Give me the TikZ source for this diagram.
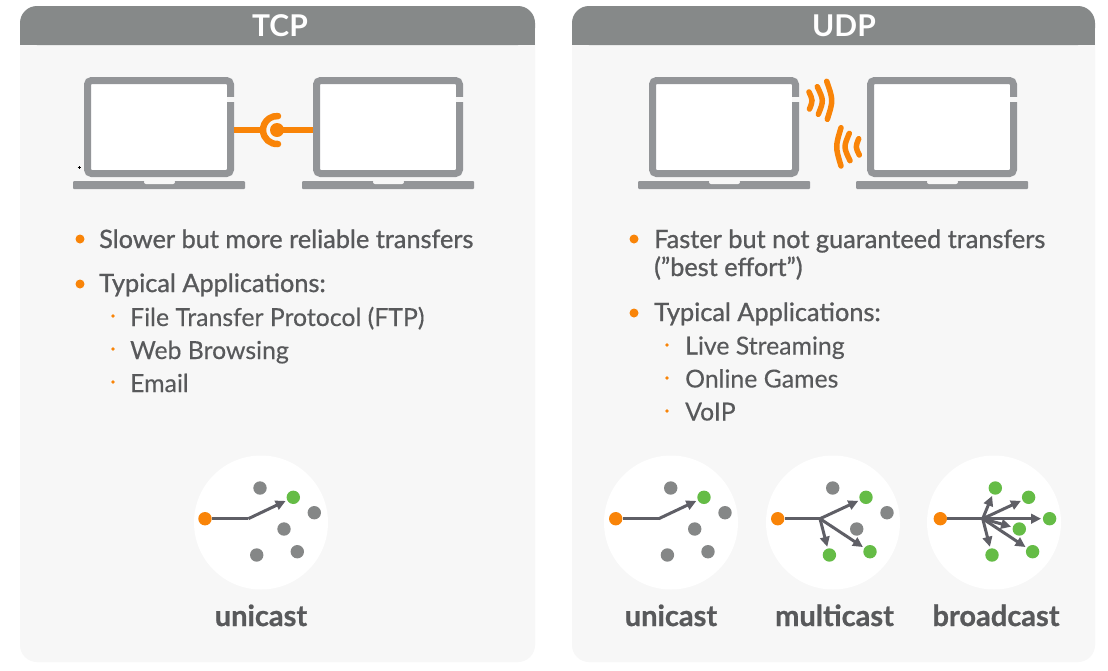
\documentclass[tikz,border=0pt]{standalone}
\usepackage{fontspec}
\setmainfont{Lato}
\usetikzlibrary{arrows.meta}
\definecolor{panelc}{HTML}{F7F7F7}
\definecolor{headc}{HTML}{868989}
\definecolor{lapc}{HTML}{939598}
\definecolor{orangec}{HTML}{F98408}
\definecolor{textc}{HTML}{58595B}
\definecolor{greenc}{HTML}{65BC46}
\definecolor{dotc}{HTML}{858787}
\definecolor{arrc}{HTML}{5F5F66}
\tikzset{
  dotn/.style={circle,inner sep=0pt,minimum size=13.4pt,fill=#1},
  flow/.style={draw=arrc,line width=3pt,-{Triangle[length=10pt,width=9.5pt]},shorten >=1.6pt},
  trunk/.style={draw=arrc,line width=3pt},
  wave/.style={draw=orangec,line width=5.5pt,line cap=round},
  link/.style={draw=orangec,line width=5.5pt},
  txtm/.style={anchor=base west,text=textc,font=\fontsize{25.3}{25.3}\selectfont\addfontfeatures{FakeBold=1.0},inner sep=0pt},
  txts/.style={anchor=base west,text=textc,font=\fontsize{24.8}{24.8}\selectfont\addfontfeatures{FakeBold=0.25},inner sep=0pt},
  lab/.style={anchor=base,text=textc,font=\fontsize{29}{29}\selectfont\bfseries\addfontfeatures{FakeBold=0.8},inner sep=0pt},
  head/.style={text=white,font=\fontsize{30}{30}\selectfont\bfseries,inner sep=0pt},
  bigb/.style={circle,fill=orangec,inner sep=0pt,minimum size=9pt},
  smallb/.style={circle,fill=orangec,inner sep=0pt,minimum size=3.6pt},
  laptop/.pic={
    \draw[lapc,line width=7pt,fill=white,rounded corners=4pt] (3.5,3.5) rectangle (146.5,96.5);
    \fill[panelc] (143,20) rectangle (151,25);
    \fill[lapc,rounded corners=1pt] (-11,104) rectangle (161,112);
    \fill[panelc,rounded corners=2pt] (60,103) rectangle (91,107);
  },
}
\begin{document}
\begin{tikzpicture}[x=1pt,y=-1pt]
\useasboundingbox (0,0) rectangle (1108,670);
\fill[white] (0,0) rectangle (1108,670);
% panels
\fill[panelc,rounded corners=17pt] (20,6) rectangle (535,662);
\fill[panelc,rounded corners=17pt] (572,6) rectangle (1095,662);
\fill[headc,rounded corners=17pt] (20,6) -- (535,6) -- (535,45) -- (20,45) -- cycle;
\fill[headc,rounded corners=17pt] (572,6) -- (1095,6) -- (1095,45) -- (572,45) -- cycle;
\fill[headc] (20,30) rectangle (535,45);
\fill[headc] (572,30) rectangle (1095,45);
\node[head] (tcp) at (280,25.5) {TCP};
\node[head] (udp) at (844,25.5) {UDP};
% laptops
\pic at (84,77) {laptop};
\pic at (313,77) {laptop};
\pic at (649,77) {laptop};
\pic at (867,77) {laptop};
% TCP link
\coordinate (lapA) at (234,130);
\coordinate (lapB) at (313,130);
\node[circle,fill=orangec,inner sep=0pt,minimum size=14pt] (hub) at (277,130) {};
\coordinate (arcw) at (263,130);
\draw[link] (lapA) -- (arcw);
\draw[link] (hub.center) -- (lapB);
\draw[wave,line width=6.5pt] (278,144) arc[start angle=86,end angle=274,radius=14];
% UDP waves
\draw[wave] (809,92) .. controls (812.9,100.5) .. (809.5,109);
\draw[wave] (817.3,86.7) .. controls (823.8,100.5) .. (818.3,114.3);
\draw[wave] (826.7,81.3) .. controls (833.3,100.3) .. (827.3,119.3);
\draw[wave] (841,127.7) .. controls (835.3,146.8) .. (841,166);
\draw[wave] (849.3,133.3) .. controls (843.5,147) .. (850,160.7);
\draw[wave] (858.7,138.7) .. controls (855.4,147) .. (859.3,155);
% tiny mark
\draw[black,line width=0.6pt] (77.5,167.5) -- (80.5,167.5) (79,166) -- (79,169);
% TCP text
\node[bigb] (b1) at (80,239) {};
\node[txtm] (t1) at (99,248) {Slower but more reliable transfers};
\node[bigb] (b2) at (80,284) {};
\node[txtm] (t2) at (99,292) {Typical Applications:};
\node[smallb] (s1) at (113,316) {};
\node[txts] (t3) at (130,326) {File Transfer Protocol (FTP)};
\node[smallb] (s2) at (113,349) {};
\node[txts] (t4) at (130,359) {Web Browsing};
\node[smallb] (s3) at (113,382) {};
\node[txts] (t5) at (130,392) {Email};
% UDP text
\node[bigb] (b3) at (634,239) {};
\node[txtm] (u1) at (654,248) {Faster but not guaranteed transfers};
\node[txtm] (u1b) at (654,276) {(”best effort”)};
\node[bigb] (b4) at (634,313) {};
\node[txtm] (u2) at (654,321) {Typical Applications:};
\node[smallb] (v1) at (667,345) {};
\node[txts] (u3) at (685,354.5) {Live Streaming};
\node[smallb] (v2) at (667,378) {};
\node[txts] (u4) at (685,387.5) {Online Games};
\node[smallb] (v3) at (667,411) {};
\node[txts] (u5) at (685,420.5) {VoIP};
% white discs
\foreach \n/\cx in {c1/261,c2/671,c3/833,c4/994}{
  \node[circle,fill=white,inner sep=0pt,minimum size=134pt] (\n) at (\cx,522.5) {};
}
% unicast TCP
\node[dotn=orangec] (ao) at (205,518.7) {};
\coordinate (aj) at (248.3,518.7);
\node[dotn=dotc] (a1) at (260,488) {};
\node[dotn=greenc] (a2) at (293.3,497.3) {};
\node[dotn=dotc] (a3) at (314.3,512.7) {};
\node[dotn=dotc] (a4) at (284,529) {};
\node[dotn=dotc] (a5) at (256.7,555) {};
\node[dotn=dotc] (a6) at (297.3,551.7) {};
\draw[trunk] (ao) -- (aj);
\draw[flow] (aj) -- (a2);
\node[lab] (la) at (261,626) {unicast};
% unicast UDP
\node[dotn=orangec] (bo) at (615.7,518.7) {};
\coordinate (bj) at (658.7,518.7);
\node[dotn=dotc] (b11) at (670.7,488) {};
\node[dotn=greenc] (b12) at (704,497.3) {};
\node[dotn=dotc] (b13) at (725,512.7) {};
\node[dotn=dotc] (b14) at (694.7,529) {};
\node[dotn=dotc] (b15) at (667.4,555) {};
\node[dotn=dotc] (b16) at (708,551.7) {};
\draw[trunk] (bo) -- (bj);
\draw[flow] (bj) -- (b12);
\node[lab] (lb) at (671,626) {unicast};
% multicast
\node[dotn=orangec] (co) at (777.7,518.7) {};
\coordinate (cj) at (820,518.7);
\node[dotn=dotc] (c11) at (832.7,488) {};
\node[dotn=greenc] (c12) at (866,497.3) {};
\node[dotn=dotc] (c13) at (887,512.7) {};
\node[dotn=dotc] (c14) at (856.7,529) {};
\node[dotn=greenc] (c15) at (829.4,555) {};
\node[dotn=greenc] (c16) at (870,551.7) {};
\draw[trunk] (co) -- (cj);
\draw[flow] (cj) -- (c12);
\draw[flow] (cj) -- (c15);
\draw[flow] (cj) -- (c16);
\node[lab] (lc) at (834.5,626) {multicast};
% broadcast
\node[dotn=orangec] (do) at (940.3,518.7) {};
\coordinate (dj) at (982.7,518.7);
\node[dotn=greenc] (d11) at (995.3,488) {};
\node[dotn=greenc] (d12) at (1028.6,497.3) {};
\node[dotn=greenc] (d13) at (1049.6,518.7) {};
\node[dotn=greenc] (d14) at (1019.3,529) {};
\node[dotn=greenc] (d15) at (992,555) {};
\node[dotn=greenc] (d16) at (1032.6,551.7) {};
\draw[trunk] (do) -- (dj);
\foreach \t in {d11,d12,d13,d14,d15,d16}{\draw[flow] (dj) -- (\t);}
\node[lab] (ld) at (996,626) {broadcast};
\end{tikzpicture}
\end{document}
